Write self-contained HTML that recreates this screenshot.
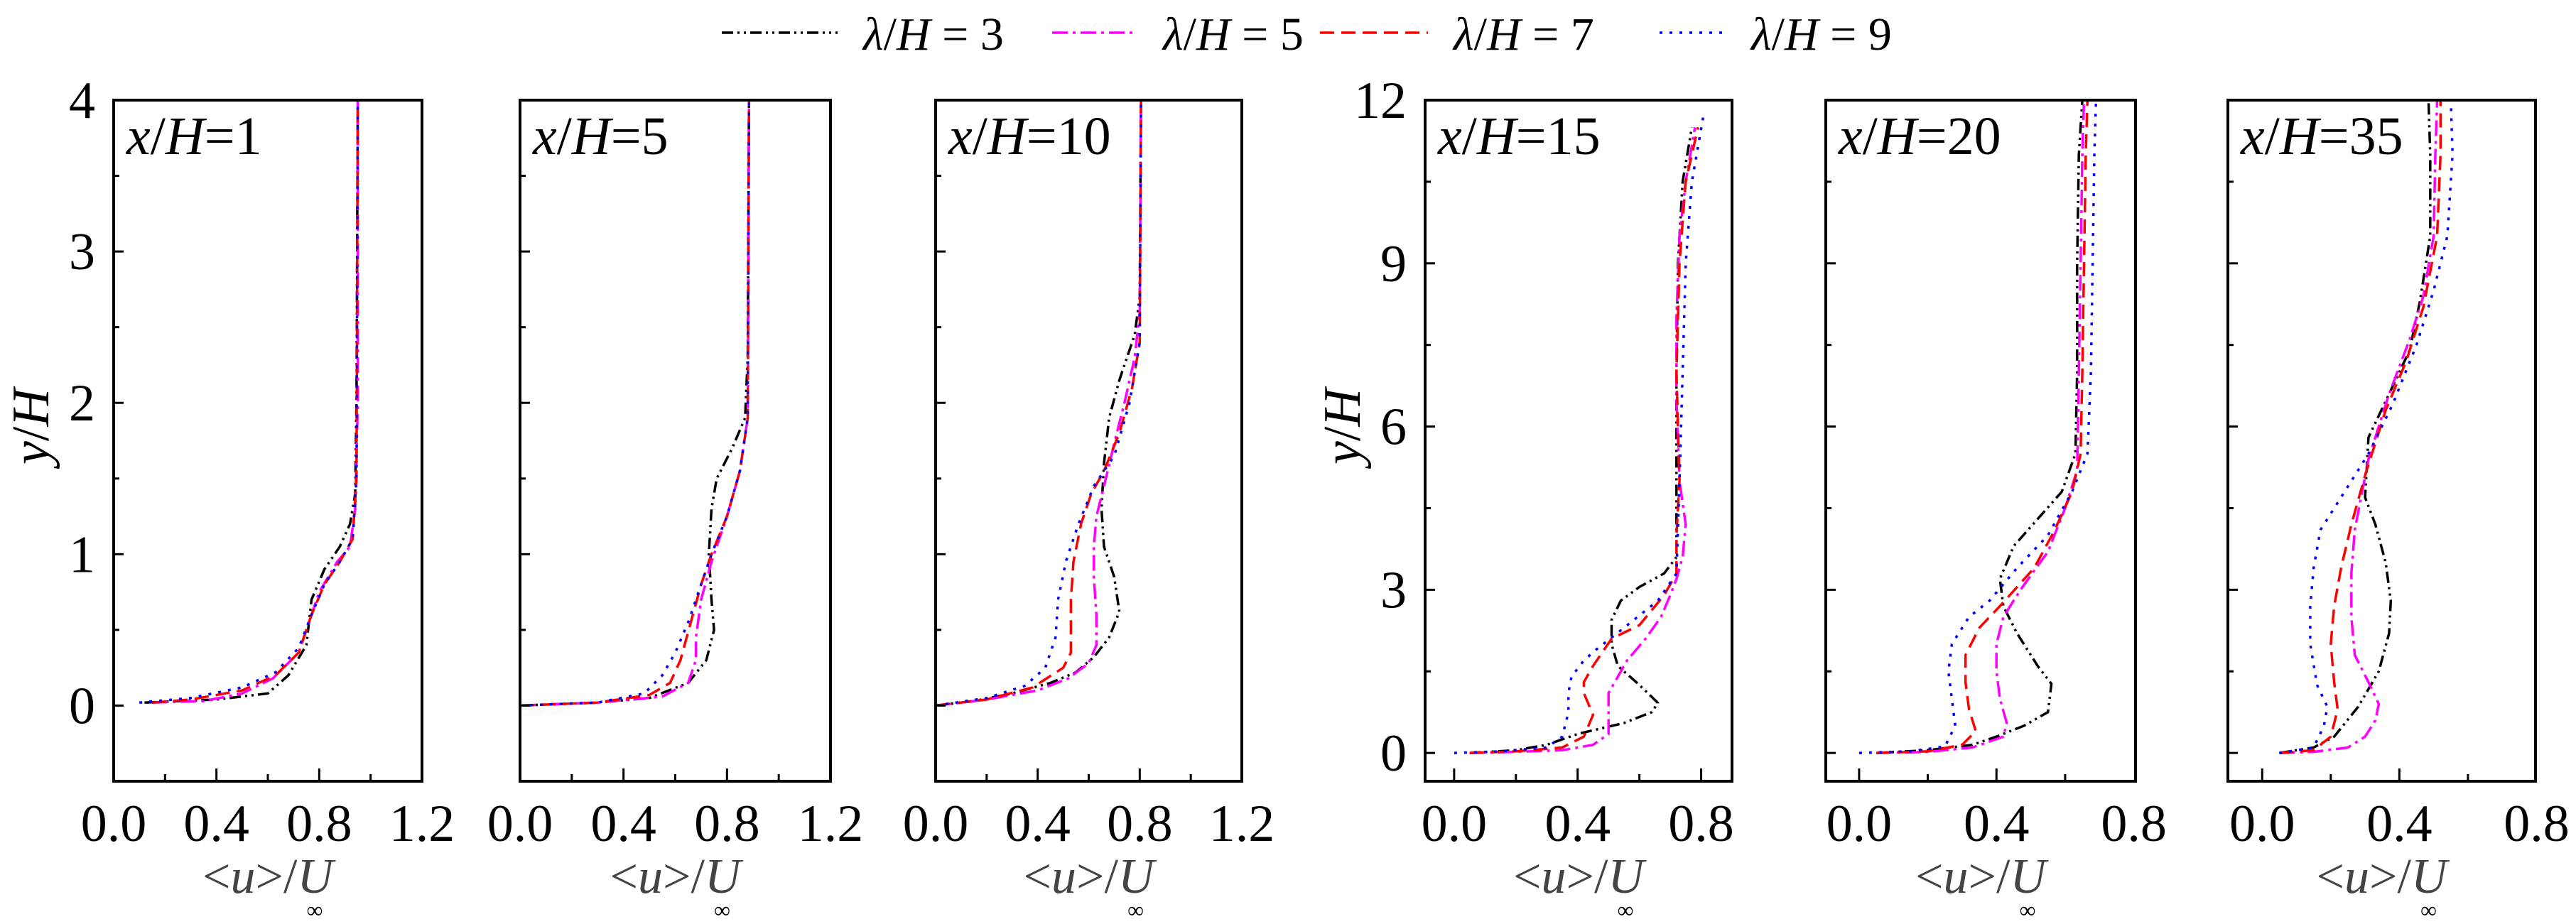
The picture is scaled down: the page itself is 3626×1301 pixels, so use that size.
<!DOCTYPE html>
<html><head><meta charset="utf-8">
<style>
html,body{margin:0;padding:0;background:#fff;}
svg{display:block;font-family:"Liberation Serif","DejaVu Serif",serif;}
svg text{font-family:"Liberation Serif","DejaVu Serif",serif;}
</style></head>
<body>
<svg id="chart" width="3626" height="1301" viewBox="0 0 3626 1301" xmlns="http://www.w3.org/2000/svg" font-family="Liberation Serif, serif"></svg>
<script>
// ---- data: [u/Uinf, y/H] ----
const panelTitles = ["1","5","10","15","20","35"];
const legendLabels = ["3","5","7","9"];
const xTicksA = [0.0,0.4,0.8,1.2];
const xTicksB = [0.0,0.4,0.8];
const yTicksA = [0,1,2,3,4];
const yTicksB = [0,3,6,9,12];

const p1_l3 = [[0.12,0.02],[0.4,0.04],[0.6,0.08],[0.68,0.2],[0.75,0.4],[0.77,0.7],[0.82,0.9],[0.88,1.05],[0.92,1.2],[0.94,1.4],[0.945,2],[0.95,4]];
const p1_l5 = [[0.15,0.02],[0.35,0.03],[0.5,0.08],[0.62,0.18],[0.72,0.35],[0.77,0.6],[0.8,0.75],[0.87,0.95],[0.92,1.05],[0.94,1.3],[0.95,2],[0.95,4]];
const p1_l7 = [[0.15,0.02],[0.3,0.04],[0.5,0.1],[0.63,0.2],[0.72,0.35],[0.77,0.6],[0.82,0.8],[0.88,0.95],[0.93,1.1],[0.945,1.5],[0.95,4]];
const p1_l9 = [[0.1,0.02],[0.3,0.05],[0.5,0.12],[0.63,0.22],[0.72,0.38],[0.77,0.6],[0.82,0.8],[0.88,0.95],[0.93,1.1],[0.945,1.5],[0.95,4]];

const p2_l3 = [[0.0,0],[0.3,0.02],[0.5,0.05],[0.65,0.15],[0.72,0.3],[0.75,0.5],[0.74,0.7],[0.73,1.0],[0.74,1.3],[0.76,1.5],[0.82,1.7],[0.87,1.9],[0.88,2.3],[0.885,4]];
const p2_l5 = [[0,0],[0.3,0.02],[0.55,0.06],[0.65,0.15],[0.68,0.3],[0.68,0.45],[0.7,0.7],[0.74,0.95],[0.8,1.25],[0.85,1.55],[0.88,1.9],[0.885,4]];
const p2_l7 = [[0,0],[0.3,0.02],[0.5,0.07],[0.58,0.15],[0.62,0.3],[0.66,0.55],[0.7,0.8],[0.74,1.0],[0.8,1.25],[0.85,1.55],[0.88,1.9],[0.885,4]];
const p2_l9 = [[0,0],[0.3,0.02],[0.48,0.08],[0.55,0.2],[0.6,0.35],[0.65,0.55],[0.7,0.8],[0.74,1.0],[0.8,1.25],[0.85,1.55],[0.88,1.9],[0.885,4]];

const p3_l3 = [[0.0,0],[0.15,0.03],[0.3,0.08],[0.45,0.15],[0.55,0.22],[0.62,0.32],[0.68,0.45],[0.72,0.62],[0.7,0.85],[0.66,1.05],[0.65,1.3],[0.66,1.6],[0.68,1.9],[0.72,2.15],[0.78,2.45],[0.8,2.7],[0.805,4]];
const p3_l5 = [[0,0],[0.2,0.04],[0.4,0.1],[0.52,0.18],[0.6,0.28],[0.63,0.4],[0.63,0.6],[0.62,0.85],[0.62,1.05],[0.63,1.25],[0.66,1.45],[0.71,1.8],[0.74,2.0],[0.78,2.3],[0.8,2.6],[0.805,4]];
const p3_l7 = [[0,0],[0.2,0.04],[0.38,0.12],[0.5,0.25],[0.53,0.35],[0.53,0.7],[0.54,0.95],[0.57,1.2],[0.61,1.4],[0.66,1.55],[0.72,1.8],[0.77,2.1],[0.8,2.4],[0.805,4]];
const p3_l9 = [[0,0],[0.2,0.05],[0.35,0.13],[0.43,0.25],[0.47,0.45],[0.48,0.7],[0.51,0.95],[0.56,1.2],[0.62,1.45],[0.7,1.65],[0.76,2.0],[0.8,2.4],[0.805,4]];

const p4_l3 = [[0.05,0],[0.2,0.05],[0.3,0.15],[0.4,0.35],[0.55,0.55],[0.64,0.75],[0.66,0.92],[0.6,1.25],[0.53,1.6],[0.51,2.0],[0.51,2.45],[0.54,2.8],[0.6,3.05],[0.68,3.3],[0.72,3.6],[0.72,5],[0.72,7],[0.725,9],[0.74,10.5],[0.77,11.5]];
const p4_l5 = [[0.05,0],[0.2,0.02],[0.35,0.05],[0.45,0.15],[0.5,0.35],[0.5,0.7],[0.5,1.1],[0.53,1.4],[0.56,1.7],[0.62,2.1],[0.67,2.5],[0.7,2.9],[0.72,3.2],[0.74,3.6],[0.75,4.2],[0.73,5],[0.72,6.5],[0.72,8],[0.73,9.5],[0.75,10.5],[0.78,11.5]];
const p4_l7 = [[0.05,0],[0.2,0.03],[0.35,0.1],[0.42,0.3],[0.45,0.7],[0.42,1.1],[0.42,1.3],[0.45,1.6],[0.51,2.1],[0.6,2.35],[0.68,2.9],[0.72,3.3],[0.72,4],[0.73,5],[0.72,7],[0.73,9],[0.75,10.5],[0.79,11.5]];
const p4_l9 = [[0.0,0],[0.15,0.03],[0.3,0.1],[0.35,0.3],[0.37,0.75],[0.37,1.1],[0.38,1.4],[0.42,1.7],[0.46,1.9],[0.55,2.3],[0.66,2.8],[0.72,3.3],[0.73,5],[0.74,7],[0.75,9],[0.77,10.5],[0.81,11.8]];

const p5_l3 = [[0.05,0],[0.2,0.05],[0.33,0.15],[0.4,0.3],[0.48,0.5],[0.55,0.75],[0.56,1.27],[0.52,1.6],[0.46,2.2],[0.42,2.7],[0.41,3.2],[0.45,3.8],[0.52,4.3],[0.59,4.8],[0.63,5.5],[0.635,7],[0.635,9],[0.64,11],[0.65,12]];
const p5_l5 = [[0.05,0],[0.2,0.02],[0.33,0.1],[0.42,0.3],[0.43,0.55],[0.41,1.0],[0.4,1.5],[0.4,2.0],[0.42,2.5],[0.47,3.0],[0.55,3.7],[0.6,4.5],[0.635,5.2],[0.64,7],[0.645,9],[0.65,11],[0.655,12]];
const p5_l7 = [[0.05,0],[0.2,0.03],[0.3,0.15],[0.34,0.4],[0.32,0.8],[0.31,1.3],[0.31,1.8],[0.35,2.3],[0.41,2.7],[0.51,3.4],[0.57,4.1],[0.62,4.8],[0.645,5.5],[0.65,7],[0.655,9],[0.66,11],[0.665,12]];
const p5_l9 = [[0.0,0],[0.15,0.03],[0.25,0.12],[0.28,0.5],[0.27,1.0],[0.26,1.5],[0.27,2.0],[0.32,2.5],[0.38,2.8],[0.46,3.4],[0.55,4.0],[0.62,4.8],[0.665,5.5],[0.675,7],[0.68,9],[0.685,11],[0.69,12]];

const p6_l3 = [[0.05,0],[0.15,0.1],[0.21,0.3],[0.28,0.85],[0.34,1.5],[0.37,2.2],[0.375,2.8],[0.36,3.5],[0.33,4.2],[0.3,4.7],[0.31,5.8],[0.37,6.6],[0.43,7.4],[0.46,8.3],[0.49,9.5],[0.49,11],[0.485,12]];
const p6_l5 = [[0.05,0],[0.15,0.02],[0.25,0.1],[0.3,0.3],[0.33,0.6],[0.34,0.9],[0.31,1.3],[0.27,1.8],[0.26,2.5],[0.26,3.3],[0.27,4.1],[0.31,5.4],[0.37,6.6],[0.43,7.6],[0.47,8.4],[0.5,9.5],[0.505,11],[0.51,12]];
const p6_l7 = [[0.05,0],[0.15,0.05],[0.2,0.3],[0.22,0.8],[0.21,1.3],[0.2,2.0],[0.21,2.7],[0.23,3.4],[0.26,4.2],[0.3,5.1],[0.36,6.3],[0.42,7.2],[0.47,8.2],[0.51,9.5],[0.52,11],[0.52,12]];
const p6_l9 = [[0.05,0],[0.15,0.1],[0.18,0.5],[0.19,0.85],[0.16,1.25],[0.14,2.0],[0.14,2.7],[0.15,3.4],[0.17,4.1],[0.22,4.6],[0.31,5.5],[0.38,6.4],[0.45,7.5],[0.5,8.5],[0.54,9.5],[0.555,11],[0.55,12]];

const seriesData = [
  [p1_l3,p1_l5,p1_l7,p1_l9],[p2_l3,p2_l5,p2_l7,p2_l9],[p3_l3,p3_l5,p3_l7,p3_l9],
  [p4_l3,p4_l5,p4_l7,p4_l9],[p5_l3,p5_l5,p5_l7,p5_l9],[p6_l3,p6_l5,p6_l7,p6_l9]
];

// ---- layout ----
const NS = "http://www.w3.org/2000/svg";
const svg = document.getElementById("chart");
const FONT = '"Liberation Serif", "DejaVu Serif", serif';
const TOP = 141, BOT = 1100;
const panels = [
  {l:160, r:594, x0:0, x1:1.2, y0:-0.5, y1:4, xt:xTicksA, xm:0.2, yt:yTicksA, ym:0.5, ylab:true},
  {l:732, r:1169, x0:0, x1:1.2, y0:-0.5, y1:4, xt:xTicksA, xm:0.2, yt:yTicksA, ym:0.5, ylab:false},
  {l:1317, r:1748, x0:0, x1:1.2, y0:-0.5, y1:4, xt:xTicksA, xm:0.2, yt:yTicksA, ym:0.5, ylab:false},
  {l:2006, r:2438, x0:-0.094, x1:0.9, y0:-0.52, y1:12, xt:xTicksB, xm:0.2, yt:yTicksB, ym:1.5, ylab:true},
  {l:2570, r:3006, x0:-0.097, x1:0.805, y0:-0.52, y1:12, xt:xTicksB, xm:0.2, yt:yTicksB, ym:1.5, ylab:false},
  {l:3136, r:3569, x0:-0.1, x1:0.797, y0:-0.52, y1:12, xt:xTicksB, xm:0.2, yt:yTicksB, ym:1.5, ylab:false}
];
const colors = ["#000000","#ff00ff","#ff0000","#0000ff"];
const dashes = ["16 6 3 6 3 6","22 7 4 7","20 10","4 10"];
const seriesNames = ["lambda-3","lambda-5","lambda-7","lambda-9"];

function mk(tag, attrs, parent){
  const e = document.createElementNS(NS, tag);
  for (const k in attrs) e.setAttribute(k, attrs[k]);
  if (tag === "text") e.style.fontFamily = FONT;
  (parent||svg).appendChild(e);
  return e;
}

panels.forEach((p, i) => {
  const sx = v => p.l + (v - p.x0) / (p.x1 - p.x0) * (p.r - p.l);
  const sy = v => BOT - (v - p.y0) / (p.y1 - p.y0) * (BOT - TOP);
  const g = mk("g", {});
  
  

  seriesData[i].forEach((pts, s) => {
    const pl = mk("polyline", {points: pts.map(d => sx(d[0]).toFixed(1)+","+sy(d[1]).toFixed(1)).join(" "),
      fill:"none", stroke:colors[s], "stroke-width":3.5, "stroke-dasharray":dashes[s], "stroke-linejoin":"round"}, g);
    
    
  });

  const fr = mk("rect", {x:p.l, y:TOP, width:p.r-p.l, height:BOT-TOP, fill:"none", stroke:"#000", "stroke-width":4}, g);
  
  

  for (let v = Math.ceil(p.x0/p.xm - 1e-6)*p.xm; v <= p.x1 + 1e-6; v += p.xm) {
    const X = sx(v);
    if (X < p.l + 3 || X > p.r - 3) continue;
    const major = p.xt.some(t => Math.abs(t - v) < 1e-6);
    const t = mk("line", {x1:X, x2:X, y1:BOT, y2:BOT-(major?18:10), stroke:"#000", "stroke-width":3}, g);
    
    
  }
  p.xt.forEach(v => {
    const t = mk("text", {x:sx(v), y:1184, "font-size":74, "text-anchor":"middle", fill:"#000"}, g);
    t.textContent = v.toFixed(1);
    
    
  });
  for (let v = 0; v <= p.y1 + 1e-6; v += p.ym) {
    const Y = sy(v);
    if (Y < TOP + 3) continue;
    const major = p.yt.some(t => Math.abs(t - v) < 1e-6);
    const t = mk("line", {x1:p.l, x2:p.l+(major?14:8), y1:Y, y2:Y, stroke:"#000", "stroke-width":3}, g);
    
    
  }
  if (p.ylab) {
    p.yt.forEach(v => {
      const t = mk("text", {x:p.l-26, y:sy(v)+25, "font-size":74, "text-anchor":"end", fill:"#000"}, g);
      t.textContent = String(v);
      
      
    });
    const yl = mk("text", {x:0, y:0, "font-size":74, "text-anchor":"middle", fill:"#000",
      transform:"translate(" + (p.l-92) + "," + ((TOP+BOT)/2 - 20) + ") rotate(-90)"}, g);
    yl.innerHTML = '<tspan font-style="italic">y</tspan>/<tspan font-style="italic">H</tspan>';
    
    
  }
  const tt = mk("text", {x:p.l+18, y:217, "font-size":76, fill:"#000"}, g);
  tt.innerHTML = '<tspan font-style="italic">x</tspan>/<tspan font-style="italic">H</tspan>=' + panelTitles[i];
  
  
  const cx = (p.l + p.r) / 2;
  const xl = mk("text", {x:cx, y:1257, "font-size":70, "text-anchor":"middle", fill:"#444"}, g);
  xl.innerHTML = '&lt;<tspan font-style="italic">u</tspan>&gt;/<tspan font-style="italic">U</tspan>';
  
  
  const inf = mk("text", {x:cx+66, y:1292, "font-size":32, "text-anchor":"middle", fill:"#000"}, g);
  inf.textContent = "∞";
  
  
});

const legX = [1016, 1481, 1858, 2336];
const legLen = [163, 120, 152, 93];
const legend = mk("g", {});


legendLabels.forEach((lab, s) => {
  const ln = mk("line", {x1:legX[s], x2:legX[s]+legLen[s], y1:46, y2:46, stroke:colors[s], "stroke-width":3.5, "stroke-dasharray":dashes[s]}, legend);
  
  
  const tx = mk("text", {x:legX[s]+legLen[s]+36, y:70, "font-size":66, fill:"#000"}, legend);
  tx.innerHTML = '<tspan font-style="italic">λ</tspan>/<tspan font-style="italic">H</tspan> = ' + lab;
  
  
});
</script>
</body></html>
